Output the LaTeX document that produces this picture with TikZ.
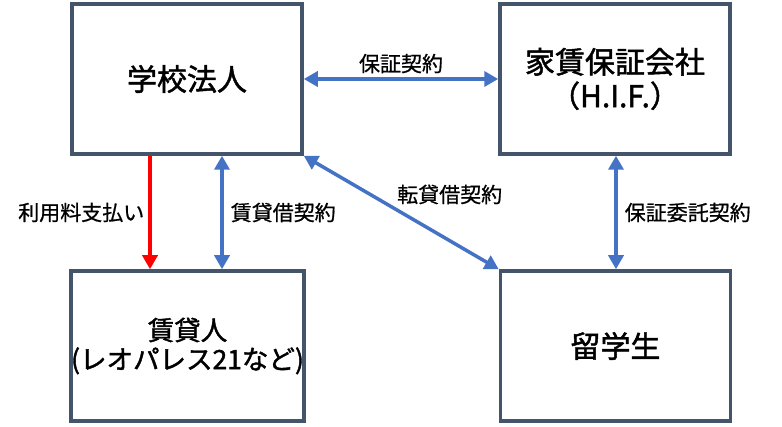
\documentclass[tikz,border=0pt]{standalone}
\usepackage{fontspec}
\newfontfamily\jp[FakeBold=1.5]{Noto Sans CJK JP}
\newfontfamily\jplbl[FakeBold=0.8]{Noto Sans CJK JP}
\usetikzlibrary{arrows.meta}
\definecolor{boxline}{HTML}{44546A}
\definecolor{arrblue}{HTML}{4472C4}
\definecolor{arrred}{HTML}{FF0000}
\begin{document}
\begin{tikzpicture}[x=1pt,y=1pt,
  party/.style={draw=boxline, line width=3.5pt, fill=white, minimum width=230pt, minimum height=150pt, align=center, font=\jp\fontsize{30}{34}\selectfont, inner sep=0pt},
  link/.style={line width=3.5pt, draw=arrblue, {Triangle[length=14pt,width=15pt]}-{Triangle[length=14pt,width=15pt]}},
  pay/.style={line width=3.5pt, draw=arrred, -{Triangle[length=14pt,width=15pt]}},
  lbl/.style={font=\jplbl\fontsize{21}{24}\selectfont, text=black, inner sep=2pt}]
\useasboundingbox (0,0) rectangle (782,426);
\node[party] (b1) at (187,347) {\raisebox{-4pt}{学校法人}};
\node[party] (b2) at (615,347) {家賃保証会社\\（H.I.F.）};
\node[party, font=\jp\fontsize{26.5}{29}\selectfont] (b3) at (187.5,80) {賃貸人\\(レオパレス21など)};
\node[party] (b4) at (615.5,80) {\raisebox{-5pt}{留学生}};
\draw[link] (b1.east) -- node[lbl, above=2pt] (l1) {保証契約} (b2.west);
\draw[pay] (b1.south -| 150,0) -- node[lbl, left=2pt] (l2) {利用料支払い} (b3.north -| 150,0);
\draw[link] (b1.south -| 222,0) -- node[lbl, right=5pt] (l3) {賃貸借契約} (b3.north -| 222,0);
\draw[link] (b1.south east) -- node[lbl, pos=0.46, anchor=south west] (l4) {転貸借契約} (b4.north west);
\draw[link] (b2.south -| 616,0) -- node[lbl, right=5pt] (l5) {保証委託契約} (b4.north -| 616,0);
\end{tikzpicture}
\end{document}
